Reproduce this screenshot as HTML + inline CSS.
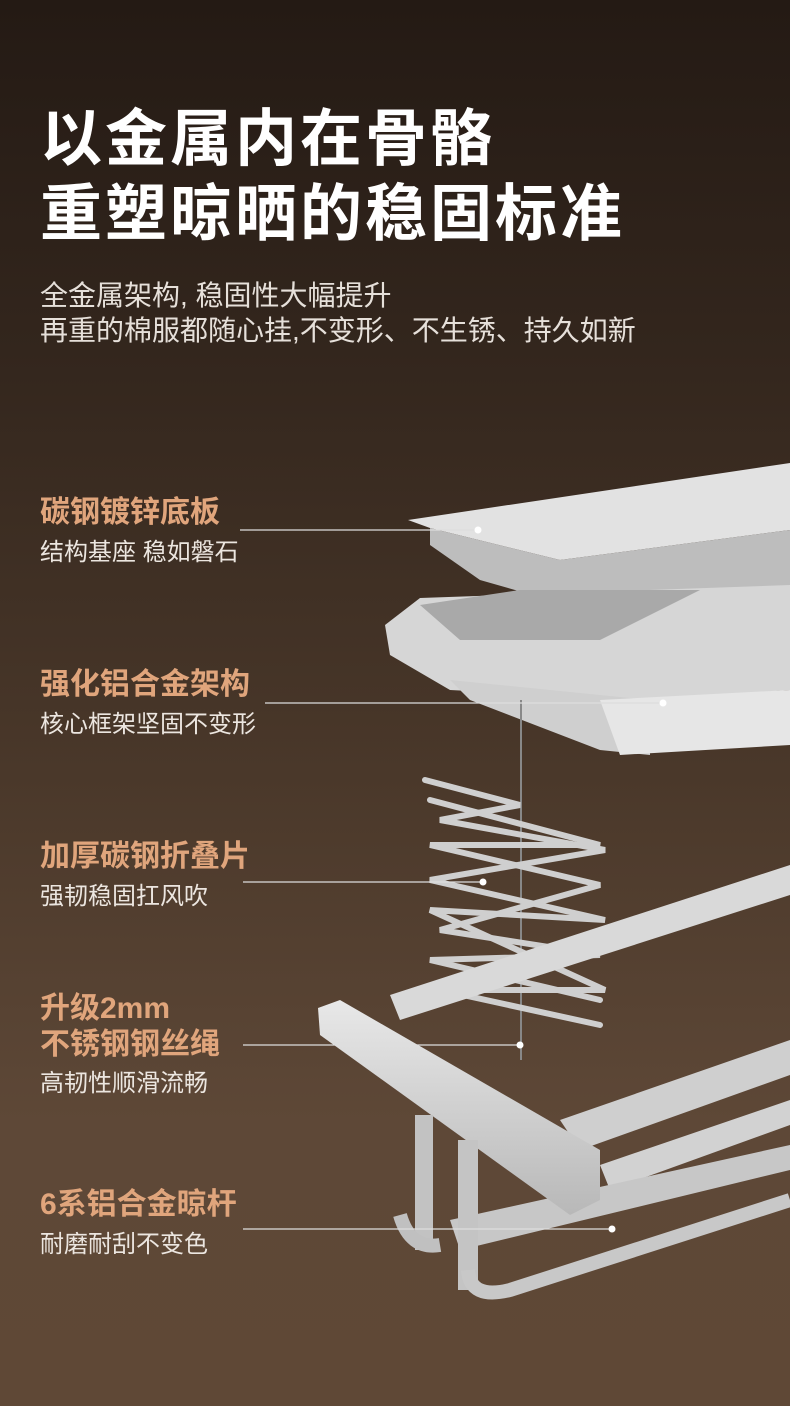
<!DOCTYPE html>
<html><head><meta charset="utf-8"><style>
body{margin:0;width:790px;height:1406px;overflow:hidden;font-family:"Liberation Sans","Noto Sans CJK SC",sans-serif;background:linear-gradient(180deg,#241a14 0%,#33261d 25%,#4a382a 55%,#5e4837 80%,#5f4836 100%);position:relative}
.t{position:absolute;left:40px;color:#fff;font-weight:700;font-size:62px;letter-spacing:3px;line-height:1}
.s{position:absolute;left:40px;color:#e6e0da;font-size:28px;line-height:1}
.l{position:absolute;left:40px;color:#e0a57c;font-weight:700;font-size:30px;line-height:1.2}
.d{position:absolute;left:40px;color:#ece6e0;font-size:24px;line-height:1}
svg{position:absolute;left:0;top:0}
</style></head><body>
<svg width="790" height="1406">
<defs><linearGradient id="g" x1="0" y1="0" x2="0" y2="1"><stop offset="0" stop-color="#e8e8e8"/><stop offset="1" stop-color="#b8b8b8"/></linearGradient></defs>
<polygon points="408,520 790,463 790,530 560,560 430,528" fill="#e2e2e2"/>
<polygon points="430,528 560,560 790,530 790,610 620,620 480,580 430,545" fill="#bdbdbd"/>
<polygon points="385,625 420,598 790,585 790,690 650,700 450,690 390,655" fill="#d6d6d6"/>
<polygon points="420,605 520,590 700,590 600,640 460,640" fill="#a9a9a9"/>
<polygon points="450,680 650,700 650,755 600,750 470,700" fill="#cfcfcf"/>
<polygon points="600,700 790,690 790,745 620,755" fill="#e6e6e6"/>
<line x1="521" y1="700" x2="521" y2="1060" stroke="#888" stroke-width="2"/>
<g stroke="#cfcfcf" stroke-width="6" fill="none" stroke-linecap="round">
<polyline points="425,780 520,805 440,820 605,850 430,880 605,920 430,910 605,990 440,990 600,1025"/>
<polyline points="430,800 600,845 430,845 600,885 440,930 600,955 430,960 600,1000"/>
</g>
<polygon points="390,995 790,865 790,895 400,1020" fill="#d9d9d9"/>
<polygon points="560,1120 790,1040 790,1075 580,1150" fill="#cfcfcf"/>
<polygon points="600,1165 790,1100 790,1125 610,1190" fill="#d2d2d2"/>
<polygon points="450,1220 790,1145 790,1170 460,1250" fill="#c7c7c7"/>
<polygon points="318,1008 340,1000 600,1150 600,1200 570,1215 320,1035" fill="url(#g)"/>
<rect x="415" y="1115" width="18" height="135" fill="#c2c2c2"/>
<rect x="458" y="1140" width="20" height="150" fill="#c4c4c4"/>
<path d="M400,1215 Q410,1250 440,1245" stroke="#c0c0c0" stroke-width="14" fill="none"/>
<path d="M468,1270 Q470,1300 510,1290 L790,1200" stroke="#c8c8c8" stroke-width="14" fill="none"/>
<g stroke="#ddd" stroke-width="1.2">
<line x1="240" y1="530" x2="478" y2="530"/>
<line x1="265" y1="703" x2="663" y2="703"/>
<line x1="243" y1="882" x2="483" y2="882"/>
<line x1="243" y1="1045" x2="520" y2="1045"/>
<line x1="243" y1="1229" x2="612" y2="1229"/>
</g>
<g fill="#fff"><circle cx="478" cy="530" r="3.5"/><circle cx="663" cy="703" r="3.5"/><circle cx="483" cy="882" r="3.5"/><circle cx="520" cy="1045" r="3.5"/><circle cx="612" cy="1229" r="3.5"/></g>
</svg>
<div class="t" style="top:109px">以金属内在骨骼</div>
<div class="t" style="top:184px">重塑晾晒的稳固标准</div>
<div class="s" style="top:282px">全金属架构, 稳固性大幅提升</div>
<div class="s" style="top:317px">再重的棉服都随心挂,不变形、不生锈、持久如新</div>
<div class="l" style="top:495px">碳钢镀锌底板</div>
<div class="d" style="top:541px">结构基座 稳如磐石</div>
<div class="l" style="top:667px">强化铝合金架构</div>
<div class="d" style="top:713px">核心框架坚固不变形</div>
<div class="l" style="top:839px">加厚碳钢折叠片</div>
<div class="d" style="top:885px">强韧稳固扛风吹</div>
<div class="l" style="top:991px">升级2mm<br>不锈钢钢丝绳</div>
<div class="d" style="top:1072px">高韧性顺滑流畅</div>
<div class="l" style="top:1187px">6系铝合金晾杆</div>
<div class="d" style="top:1233px">耐磨耐刮不变色</div>
</body></html>
